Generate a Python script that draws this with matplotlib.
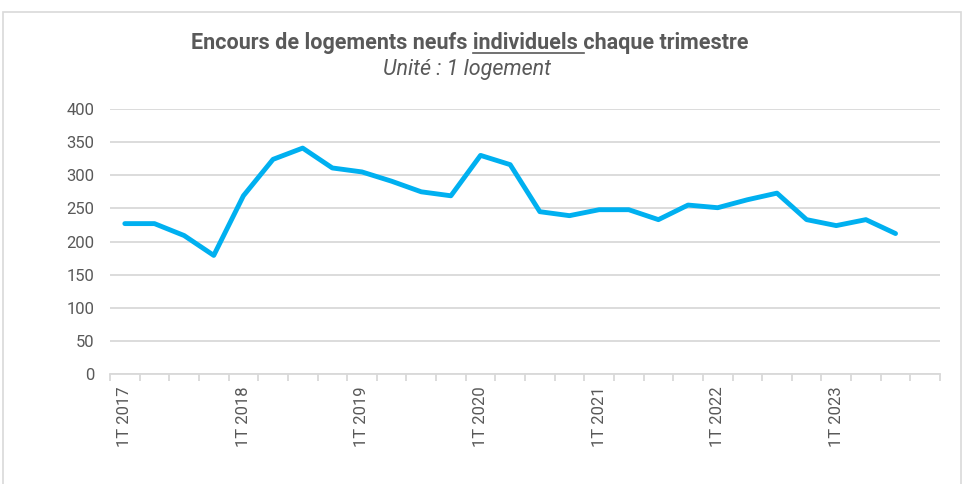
import numpy as np
import matplotlib
matplotlib.use("Agg")
import matplotlib.pyplot as plt
from matplotlib.patches import Rectangle
from matplotlib.lines import Line2D

years = [2017, 2018, 2019, 2020, 2021, 2022, 2023]
quarters = ["1T", "2T", "3T", "4T"]
categories = [f"{q} {y}" for y in years for q in quarters]
values = [227, 227, 209, 179, 269, 324, 341, 311, 305, 291, 275, 269,
          330, 316, 245, 239, 248, 248, 233, 255, 251, 263, 273, 233,
          224, 233, 212, np.nan]
yticks = [0, 50, 100, 150, 200, 250, 300, 350, 400]

title_pre = "Encours de logements neufs "
title_word = "individuels"
title_post = " chaque trimestre"
subtitle = "Unité : 1 logement"

plt.rcParams['font.family'] = ['Roboto', 'DejaVu Sans']
txt_col = "#595959"
grid_col = "#d9d9d9"
line_col = "#00b0f0"
TFS = 15.5

fig = plt.figure(figsize=(9.66, 4.84), dpi=100)
ax = fig.add_axes([110/966, 1-374/484, (940-110)/966, (374-109)/484])

x = np.arange(len(categories))
ax.plot(x, values, color=line_col, lw=3.5, solid_joinstyle='round', solid_capstyle='round', zorder=3)

ax.set_xlim(-0.5, len(categories) - 0.5)
ax.set_ylim(0, 400)
ax.set_yticks(yticks)
ax.set_yticklabels([str(v) for v in yticks], fontsize=12, color=txt_col)
ax.grid(axis='y', color=grid_col, lw=1.3)
ax.set_axisbelow(True)
ax.tick_params(axis='y', length=0, pad=11)

ax.set_xticks(np.arange(-0.5, len(categories), 1), minor=True)
ax.set_xticks(x[::4])
ax.set_xticklabels([categories[i] for i in x[::4]], rotation=90, fontsize=12,
                   color=txt_col, va='top', ha='center')
ax.tick_params(axis='x', which='major', length=0, pad=9)
ax.tick_params(axis='x', which='minor', length=5, color=grid_col, width=1.3)
for s in ['top', 'right', 'left']:
    ax.spines[s].set_visible(False)
ax.spines['bottom'].set_color(grid_col)
ax.spines['bottom'].set_linewidth(1.3)

# figure border
fig.patches.append(Rectangle((3/966, -0.1), 958/966, 1.1 - 12/484, transform=fig.transFigure,
                             fill=False, edgecolor=grid_col, lw=1.2))

# title with underlined word
cx = 470/966
ty = 1 - 43/484
full = title_pre + title_word + title_post
t = fig.text(cx, ty, full, ha='center', va='center', fontsize=TFS, fontweight='bold',
             color=txt_col)
fig.canvas.draw()
r = fig.canvas.get_renderer()

def width(s):
    tt = fig.text(0, 0, s, fontsize=TFS, fontweight='bold')
    w = tt.get_window_extent(renderer=r).width
    tt.remove()
    return w

bb = t.get_window_extent(renderer=r)
sp = width("a a") - width("aa")
p = width(title_pre.strip()) + sp
wd = width(title_word)
x0 = bb.x0 + p
x1 = x0 + wd + sp
uy = bb.y0 + 1.5
fig.lines.append(Line2D([x0 / fig.bbox.width, x1 / fig.bbox.width],
                        [uy / fig.bbox.height] * 2, transform=fig.transFigure,
                        color=txt_col, lw=1.2))

fig.text(467/966, 1 - 70/484, subtitle, ha='center', va='center', fontsize=15.5,
         style='italic', color=txt_col)

fig.savefig("out.png", dpi=100)
